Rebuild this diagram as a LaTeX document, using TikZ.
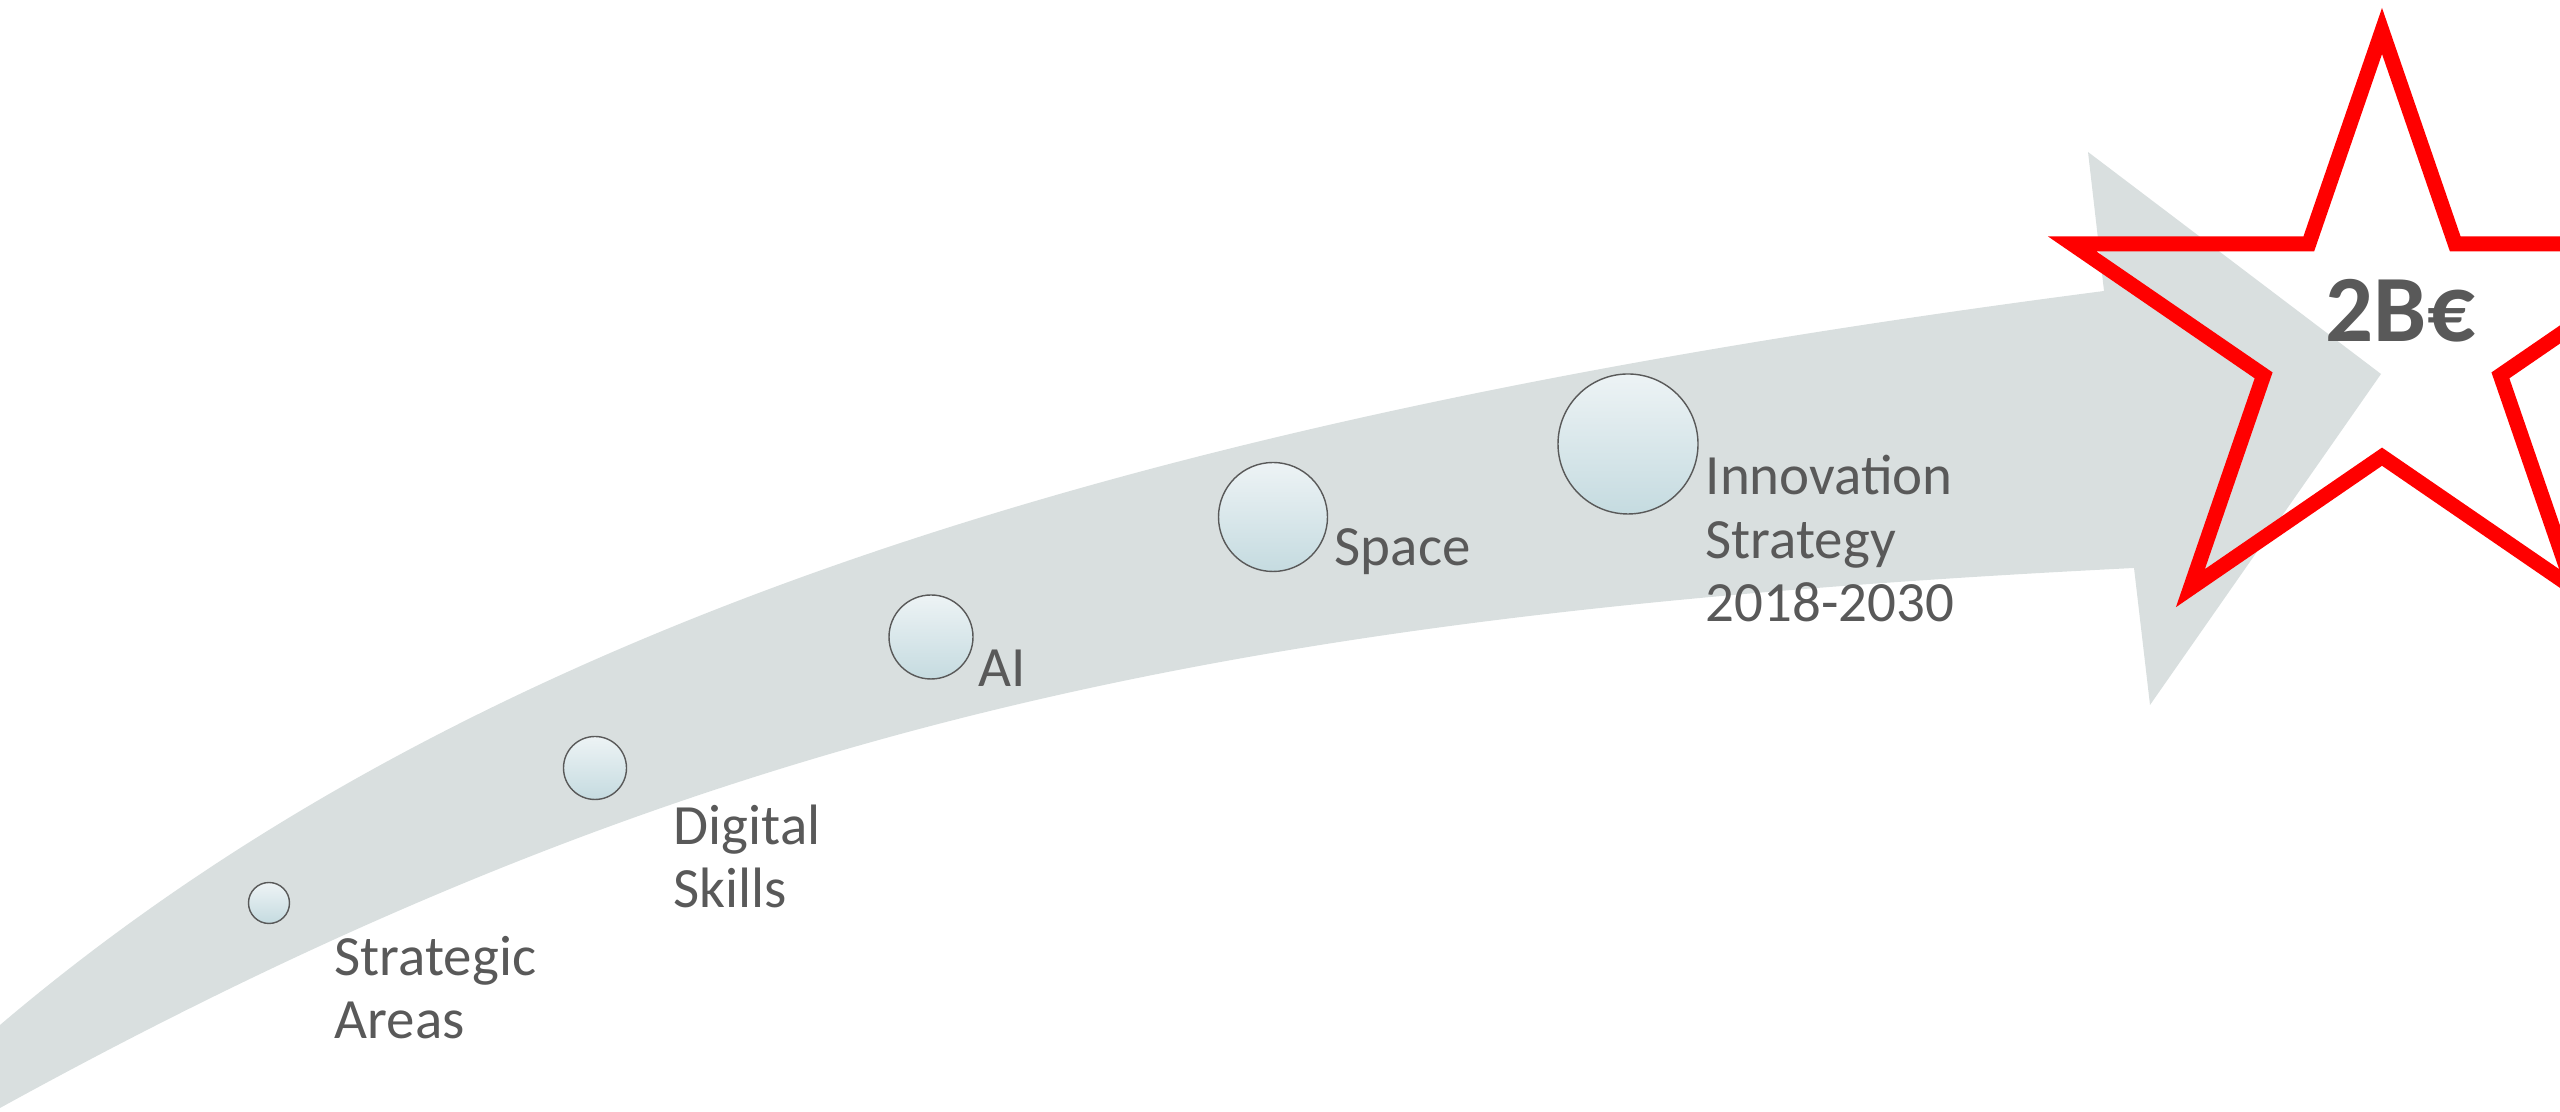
\documentclass[tikz,border=0pt]{standalone}
\usepackage{fontspec}
\setmainfont{Carlito}
\usetikzlibrary{positioning}

\definecolor{bandgray}{HTML}{D9DFDF}
\definecolor{txtgray}{HTML}{595959}
\definecolor{ballTop}{HTML}{EDF3F5}
\definecolor{ballBot}{HTML}{C5DBE0}

\tikzset{
  ball/.style={circle, draw=txtgray, line width=0.4pt, top color=ballTop, bottom color=ballBot, inner sep=0pt},
  lbl/.style={anchor=base west, inner sep=0pt, text=txtgray, font=\fontsize{16.2}{18.2}\selectfont, align=left},
  starline/.style={draw=red, line width=0.15cm, line join=miter}
}

\begin{document}
\begin{tikzpicture}
\useasboundingbox (0,0) rectangle (25.6,11.12);
\clip (0,0) rectangle (25.6,11.12);
% the band and its head
\fill[bandgray] (0,0.87) .. controls (5.00,5.12) and (12.04,7.04) .. (21.04,8.21)
  -- (20.88,9.60) -- (23.81,7.38) -- (21.50,4.07) -- (21.34,5.44)
  .. controls (12.34,4.99) and (7.00,3.89) .. (0,0.04) -- cycle;

% milestones
\node[ball, minimum size=0.41cm] (sa) at (2.69,2.09) {};
\node[ball, minimum size=0.63cm] (ds) at (5.95,3.44) {};
\node[ball, minimum size=0.84cm] (ai) at (9.31,4.75) {};
\node[ball, minimum size=1.09cm] (sp) at (12.73,5.95) {};
\node[ball, minimum size=1.40cm] (is) at (16.28,6.68) {};

% labels, placed by their last baseline
\node[lbl] (satext) at (3.34,0.73) {Strategic\\Areas};
\node[lbl] (dstext) at (6.73,2.04) {Digital\\Skills};
\node[lbl] (aitext) at (9.78,4.25) {AI};
\node[lbl] (sptext) at (13.34,5.46) {Space};
\node[lbl] (istext) at (17.05,4.90) {Innovation\\Strategy\\2018-2030};

% goal
\coordinate (sc) at (23.82,7.73);
\begin{scope}[shift={(sc)}]
\draw[starline] (90:3.26 and 3.08)
  \foreach \a in {0,...,3} { -- (126+72*\a:1.245 and 1.177) -- (162+72*\a:3.26 and 3.08) }
  -- (54:1.245 and 1.177) -- cycle;
\end{scope}
\node[anchor=base west, inner sep=0pt, text=txtgray, font=\bfseries\fontsize{27}{30}\selectfont] (goal) at (23.25,7.70) {2B€};
\end{tikzpicture}
\end{document}
